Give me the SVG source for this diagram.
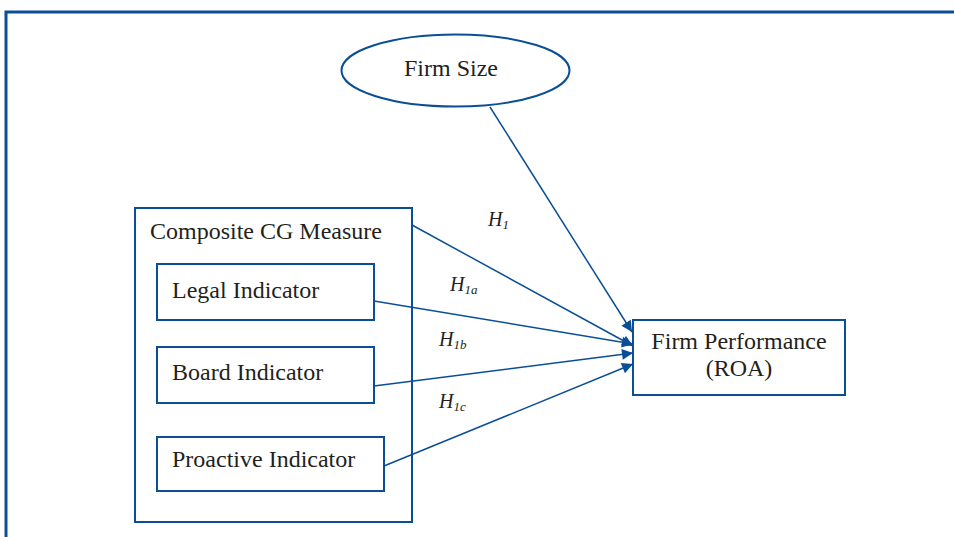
<svg xmlns="http://www.w3.org/2000/svg" width="954" height="537" viewBox="0 0 954 537">
<defs>
<style>
.b{fill:#fff;stroke:#0a4f96;stroke-width:2}
.t{font-family:"Liberation Serif",serif;font-size:24px;fill:#231f20}
.h{font-family:"Liberation Serif",serif;font-size:20px;font-style:italic;fill:#231f20}
.s{font-size:13px}
.c{stroke:#0a4f96;stroke-width:1.5;fill:none;marker-end:url(#a)}
</style>
<marker id="a" viewBox="0 0 10 10" refX="10" refY="5" markerWidth="12" markerHeight="11" markerUnits="userSpaceOnUse" orient="auto"><path d="M0,0L10,5L0,10z" fill="#0a4f96"/></marker>
</defs>
<rect width="954" height="537" fill="#fff"/>
<path d="M6,537V12H954" fill="none" stroke="#0a4f96" stroke-width="3"/>
<g id="firm-size"><ellipse class="b" cx="455.5" cy="70.5" rx="114" ry="36"/><text class="t" x="451" y="76" text-anchor="middle">Firm Size</text></g>
<g id="composite"><rect class="b" x="135" y="208" width="277" height="314"/><text class="t" x="150" y="239">Composite CG Measure</text></g>
<g id="legal"><rect class="b" x="157" y="264" width="217" height="56"/><text class="t" x="172" y="298">Legal Indicator</text></g>
<g id="board"><rect class="b" x="157" y="347" width="217" height="56"/><text class="t" x="172" y="380">Board Indicator</text></g>
<g id="proactive"><rect class="b" x="157" y="437" width="227" height="54"/><text class="t" x="172" y="467">Proactive Indicator</text></g>
<g id="firm-performance"><rect class="b" x="633" y="320" width="212" height="75"/><text class="t" x="739" y="349" text-anchor="middle">Firm Performance</text><text class="t" x="739" y="376" text-anchor="middle">(ROA)</text></g>
<g id="connectors">
<line class="c" x1="490" y1="107" x2="632" y2="332"/>
<line class="c" x1="412" y1="225" x2="633" y2="346"/>
<line class="c" x1="374" y1="301" x2="633" y2="344"/>
<line class="c" x1="374" y1="386" x2="633" y2="353"/>
<line class="c" x1="384" y1="466" x2="633" y2="364"/>
</g>
<g id="labels">
<text class="h" x="488" y="226">H<tspan class="s" dy="3">1</tspan></text>
<text class="h" x="450" y="291">H<tspan class="s" dy="3">1a</tspan></text>
<text class="h" x="439" y="346">H<tspan class="s" dy="3">1b</tspan></text>
<text class="h" x="439" y="408">H<tspan class="s" dy="3">1c</tspan></text>
</g>
</svg>
